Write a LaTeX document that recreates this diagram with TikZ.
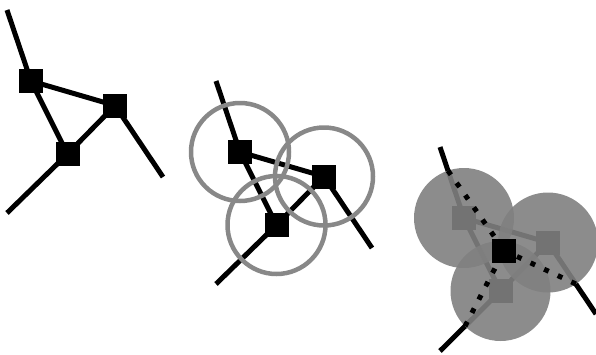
\documentclass[tikz,border=0pt]{standalone}
\usetikzlibrary{calc}
\begin{document}
\begin{tikzpicture}[x=1pt,y=-1pt,
  edge/.style={line width=5pt,black},
  sq/.style={draw=none,fill=black,minimum size=24pt,inner sep=0pt,outer sep=0pt,rectangle},
  ring/.style={draw={rgb,255:red,136;green,136;blue,136},line width=4.5pt},
  disc/.style={fill=gray,fill opacity=0.9,draw=none},
  dotline/.style={line width=5pt,black,dash pattern=on 5pt off 10pt}]
\useasboundingbox (0,0) rectangle (596,354);
% panel 1
\coordinate (T1) at (7,10);
\coordinate (A1) at (31,81);
\coordinate (B1) at (115,105.5);
\coordinate (C1) at (67.5,154);
\coordinate (EB1) at (163,177);
\coordinate (EC1) at (7,213);
\draw[edge] (T1) -- (A1) -- (B1) -- (C1) -- (A1);
\draw[edge] (B1) -- (EB1);
\draw[edge] (C1) -- (EC1);
\node[sq] (nA1) at (A1) {};
\node[sq] (nB1) at (B1) {};
\node[sq] (nC1) at (C1) {};
% panel 2
\coordinate (T2) at (216,81);
\coordinate (A2) at (240,152);
\coordinate (B2) at (324,176.5);
\coordinate (C2) at (276.5,225);
\coordinate (EB2) at (372,248);
\coordinate (EC2) at (216,284);
\draw[edge] (T2) -- (A2) -- (B2) -- (C2) -- (A2);
\draw[edge] (B2) -- (EB2);
\draw[edge] (C2) -- (EC2);
\node[sq] (nA2) at (A2) {};
\node[sq] (nB2) at (B2) {};
\node[sq] (nC2) at (C2) {};
\draw[ring] (A2) circle[radius=49];
\draw[ring] (B2) circle[radius=49];
\draw[ring] (C2) circle[radius=49];
% panel 3
\coordinate (T3) at (440,147);
\coordinate (A3) at (464,218);
\coordinate (B3) at (548,242.5);
\coordinate (C3) at (500.5,291);
\coordinate (EB3) at (596,314);
\coordinate (EC3) at (440,351);
\draw[edge] (T3) -- (A3) -- (B3) -- (C3) -- (A3);
\draw[edge] (B3) -- (EB3);
\draw[edge] (C3) -- (EC3);
\node[sq] (nA3) at (A3) {};
\node[sq] (nB3) at (B3) {};
\node[sq] (nC3) at (C3) {};
\fill[disc] (A3) circle[radius=50];
\fill[disc] (B3) circle[radius=50];
\fill[disc] (C3) circle[radius=50];
\coordinate (M) at (barycentric cs:A3=1,B3=1,C3=1);
\coordinate (PA) at ($(A3)!50pt!(T3)$);
\coordinate (PB) at ($(B3)!50pt!(EB3)$);
\coordinate (PC) at ($(C3)!50pt!(EC3)$);
\draw[dotline] (PA) -- (M);
\draw[dotline] (PB) -- (M);
\draw[dotline] (PC) -- (M);
\node[sq] (nM) at (M) {};
\end{tikzpicture}
\end{document}
